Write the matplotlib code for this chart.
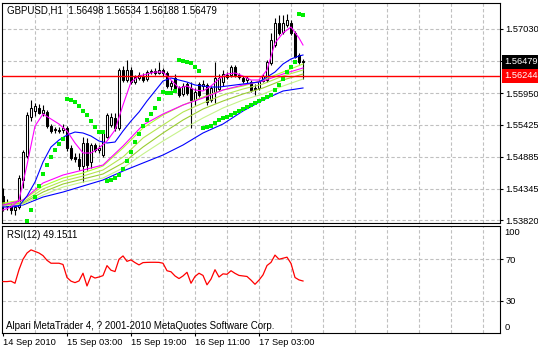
import matplotlib
matplotlib.use('Agg')
import matplotlib.pyplot as plt
import matplotlib.transforms as mtransforms

plt.rcParams['font.family'] = ['Liberation Sans', 'DejaVu Sans']

# ---------------- text / labels ----------------
title_text = 'GBPUSD,H1  1.56498 1.56534 1.56188 1.56479'
rsi_title = 'RSI(12) 49.1511'
copyright_text = 'Alpari MetaTrader 4, ? 2001-2010 MetaQuotes Software Corp.'
date_labels = ['14 Sep 2010', '15 Sep 03:00', '15 Sep 19:00', '16 Sep 11:00', '17 Sep 03:00']
date_label_bars = [0, 16, 32, 48, 64]
price_grid = [1.53820, 1.54345, 1.54885, 1.55425, 1.55950, 1.56490, 1.57030]
price_grid_labels = ['1.53820', '1.54345', '1.54885', '1.55425', '1.55950', '', '1.57030']
last_price = 1.56479
level_price = 1.56244
rsi_levels = [30, 70]

# ---------------- candles (H1 bars) ----------------
opens = [1.54224, 1.54090, 1.54056, 1.53989, 1.54039, 1.54493, 1.54896, 1.55551, 1.55652, 1.55703,
         1.55619, 1.55635, 1.55400, 1.55333, 1.55333, 1.55333, 1.55367, 1.55031, 1.54879, 1.54846,
         1.54728, 1.55115, 1.54795, 1.55081, 1.54997, 1.54913, 1.55215, 1.55417, 1.55535, 1.55367,
         1.56341, 1.56173, 1.56341, 1.56139, 1.56207, 1.56240, 1.56190, 1.56307, 1.56324, 1.56291,
         1.56341, 1.56291, 1.56072, 1.56207, 1.56039, 1.55938, 1.56106, 1.56039, 1.55837, 1.56106,
         1.56072, 1.56089, 1.55837, 1.55971, 1.56022, 1.56139, 1.56257, 1.56257, 1.56391, 1.56257,
         1.56207, 1.56173, 1.56139, 1.56039, 1.56039, 1.56156, 1.56173, 1.56459, 1.56761, 1.57131,
         1.56979, 1.57097, 1.57131, 1.56963, 1.56593, 1.56498]
highs = [1.54359, 1.54174, 1.54107, 1.54073, 1.54577, 1.54997, 1.55635, 1.55837, 1.55787, 1.55770,
         1.55753, 1.55669, 1.55434, 1.55383, 1.55383, 1.55434, 1.55400, 1.55081, 1.54947, 1.54947,
         1.55215, 1.55199, 1.55115, 1.55115, 1.55081, 1.55333, 1.55619, 1.55619, 1.55619, 1.56375,
         1.56408, 1.56509, 1.56391, 1.56257, 1.56307, 1.56291, 1.56341, 1.56358, 1.56375, 1.56475,
         1.56375, 1.56324, 1.56173, 1.56274, 1.56072, 1.56123, 1.56139, 1.56139, 1.56039, 1.56139,
         1.56173, 1.56123, 1.56072, 1.56475, 1.56274, 1.56341, 1.56307, 1.56425, 1.56425, 1.56291,
         1.56240, 1.56240, 1.56173, 1.56106, 1.56190, 1.56274, 1.56509, 1.56963, 1.57215, 1.57265,
         1.57265, 1.57282, 1.57181, 1.56996, 1.56627, 1.56534]
lows = [1.53972, 1.53989, 1.53922, 1.53905, 1.54006, 1.54359, 1.54863, 1.55484, 1.55568, 1.55602,
        1.55568, 1.55367, 1.55283, 1.55283, 1.55283, 1.55283, 1.54980, 1.54829, 1.54795, 1.54661,
        1.54459, 1.54661, 1.54695, 1.54963, 1.54947, 1.54879, 1.55199, 1.55383, 1.55316, 1.55333,
        1.56139, 1.56139, 1.56106, 1.56106, 1.56173, 1.56139, 1.56156, 1.56274, 1.56257, 1.56274,
        1.56240, 1.56039, 1.56005, 1.56005, 1.55887, 1.55904, 1.55921, 1.55367, 1.55753, 1.55887,
        1.56005, 1.55753, 1.55803, 1.55787, 1.55988, 1.56072, 1.56190, 1.56223, 1.56223, 1.56190,
        1.56123, 1.56123, 1.55971, 1.55921, 1.56005, 1.56139, 1.56139, 1.56425, 1.56727, 1.56929,
        1.56946, 1.57063, 1.56929, 1.56543, 1.56442, 1.56188]
closes = [1.54090, 1.54056, 1.53989, 1.54039, 1.54527, 1.54963, 1.55585, 1.55703, 1.55736, 1.55619,
          1.55669, 1.55400, 1.55316, 1.55350, 1.55316, 1.55367, 1.55031, 1.54863, 1.54846, 1.54728,
          1.55115, 1.54745, 1.55081, 1.54997, 1.55031, 1.55283, 1.55585, 1.55551, 1.55367, 1.56341,
          1.56173, 1.56341, 1.56139, 1.56223, 1.56257, 1.56173, 1.56307, 1.56324, 1.56291, 1.56341,
          1.56291, 1.56072, 1.56123, 1.56039, 1.55921, 1.56072, 1.55955, 1.55837, 1.55971, 1.55921,
          1.56106, 1.55803, 1.56039, 1.56207, 1.56207, 1.56274, 1.56223, 1.56391, 1.56257, 1.56223,
          1.56156, 1.56207, 1.56005, 1.56022, 1.56156, 1.56240, 1.56475, 1.56845, 1.57131, 1.56963,
          1.57131, 1.57181, 1.56963, 1.56559, 1.56475, 1.56479]

# ---------------- Parabolic SAR ----------------
sar = [None, None, None, None, None, None,
       1.53804, 1.53989, 1.54207, 1.54392, 1.54594, 1.54745, 1.54879, 1.54997, 1.55098, 1.55182,
       1.55854, 1.55837, 1.55803, 1.55736, 1.55652, 1.55585, 1.55484, 1.55383, 1.55299, 1.55299,
       1.54476, 1.54493, 1.54527, 1.54577, 1.54678, 1.54812, 1.54963, 1.55131, 1.55266, 1.55400,
       1.55501, 1.55602, 1.55703, 1.55854, 1.55971, 1.55955, 1.55955, 1.55988,
       1.56509, 1.56492, 1.56475, 1.56459, 1.56391, 1.56324,
       1.55367, 1.55383, 1.55400, 1.55451, 1.55501, 1.55535, 1.55551, 1.55585, 1.55619, 1.55652,
       1.55686, 1.55719, 1.55753, 1.55787, 1.55820, 1.55854, 1.55887, 1.55921, 1.56005, 1.56089,
       1.56190, 1.56307, 1.56391, 1.56475, 1.57282, 1.57265]

# ---------------- moving averages ----------------
fast_bars = list(range(0, 76, 2)) + [75]
fast_ma_magenta = [1.53989, 1.54039, 1.54157, 1.54745, 1.55400, 1.55602, 1.55518, 1.55434, 1.55316, 1.55115,
                   1.54947, 1.54947, 1.55031, 1.55148, 1.55333, 1.55753, 1.56139, 1.56240, 1.56274, 1.56307,
                   1.56307, 1.56173, 1.56039, 1.56072, 1.56005, 1.55988, 1.56072, 1.56190, 1.56274, 1.56291,
                   1.56240, 1.56173, 1.56173, 1.56341, 1.56795, 1.56963, 1.57063, 1.56879, 1.56761]
mid_ma_blue = [1.54039, 1.54039, 1.54056, 1.54224, 1.54459, 1.54795, 1.55047, 1.55165, 1.55249, 1.55299,
               1.55283, 1.55232, 1.55148, 1.55115, 1.55131, 1.55316, 1.55484, 1.55635, 1.55820, 1.55988,
               1.56156, 1.56207, 1.56173, 1.56139, 1.56089, 1.56072, 1.56055, 1.56055, 1.56072, 1.56089,
               1.56106, 1.56123, 1.56139, 1.56223, 1.56307, 1.56442, 1.56526, 1.56576, 1.56593]

slow_bars = list(range(0, 76, 5))
slow_ma_magenta = [1.54073, 1.54157, 1.54443, 1.54577, 1.54661, 1.54745, 1.55064, 1.55417,
                   1.55602, 1.55753, 1.55871, 1.56005, 1.56089, 1.56156, 1.56274, 1.56375]
green_ma_1 = [1.54107, 1.54157, 1.54392, 1.54527, 1.54611, 1.54728, 1.55031, 1.55367,
              1.55585, 1.55753, 1.55887, 1.56005, 1.56072, 1.56173, 1.56307, 1.56442]
green_ma_2 = [1.54090, 1.54123, 1.54342, 1.54476, 1.54560, 1.54661, 1.54879, 1.55199,
              1.55417, 1.55635, 1.55787, 1.55921, 1.56022, 1.56106, 1.56240, 1.56341]
green_ma_3 = [1.54073, 1.54107, 1.54291, 1.54426, 1.54510, 1.54594, 1.54779, 1.55047,
              1.55283, 1.55501, 1.55686, 1.55820, 1.55938, 1.56039, 1.56173, 1.56274]
green_ma_4 = [1.54056, 1.54090, 1.54241, 1.54375, 1.54459, 1.54527, 1.54695, 1.54930,
              1.55148, 1.55350, 1.55535, 1.55703, 1.55837, 1.55938, 1.56072, 1.56190]
slow_ma_blue = [1.54056, 1.54073, 1.54207, 1.54291, 1.54392, 1.54493, 1.54644, 1.54779,
                1.54913, 1.55081, 1.55283, 1.55434, 1.55652, 1.55837, 1.55988, 1.56039]

# ---------------- RSI(12) ----------------
rsi = [48.6, 48.6, 49, 47, 60, 70, 76, 79, 77.5, 76,
       73.5, 69, 66.2, 66.2, 66.2, 65, 52.5, 49, 47.6, 49.2,
       56.6, 44.4, 54, 52, 53, 54.3, 63.9, 59.5, 58.2, 70,
       73.2, 68, 69.4, 66.8, 64.6, 66.8, 67, 67.1, 67.1, 67,
       66.2, 59, 58, 54, 51.5, 54, 57.5, 47, 53.5, 56.6,
       54.5, 45.5, 51, 60, 53, 56, 55.6, 59, 56.5, 54.5,
       54, 53.5, 50, 46, 50, 55, 64, 67, 74, 70,
       71, 72, 66, 52.5, 50.2, 49.15]

# ---------------- figure ----------------
W, H = 538, 351
fig = plt.figure(figsize=(W / 100, H / 100), dpi=100)
fig.patch.set_facecolor('white')

left_px, right_px = 1.5, 500
main_top, main_bot = 2.5, 223.3
rsi_top, rsi_bot = 226.0, 333.3

ax = fig.add_axes([left_px / W, 1 - main_bot / H, (right_px - left_px) / W, (main_bot - main_top) / H])
ax2 = fig.add_axes([left_px / W, 1 - rsi_bot / H, (right_px - left_px) / W, (rsi_bot - rsi_top) / H])

FS = 6.7
FS_T = 7.0
grid_kw = dict(color='#c0c0c0', lw=0.8, dashes=(3, 2), zorder=0)
n = len(closes)
xs = list(range(n))

for a in (ax, ax2):
    a.set_xlim(-0.375, 124.25)
    for s in a.spines.values():
        s.set_color('black')
        s.set_linewidth(0.8)
    for gx in range(8, 124, 8):
        a.axvline(gx, **grid_kw)

# main panel
ax.set_ylim(1.53766, 1.57475)
for gy in price_grid:
    ax.axhline(gy, **grid_kw)

# candles
ax.vlines(xs, lows, highs, color='black', lw=0.8, zorder=2)
bodies_b = [max(abs(c - o), 0.00005) for o, c in zip(opens, closes)]
bottoms = [min(o, c) for o, c in zip(opens, closes)]
faces = ['white' if c >= o else 'black' for o, c in zip(opens, closes)]
ax.bar(xs, bodies_b, bottom=bottoms, width=0.55, color=faces, edgecolor='black', linewidth=0.75, zorder=2.5)

# moving averages
ax.plot(slow_bars, slow_ma_blue, color='#0000ff', lw=0.8, zorder=3)
ax.plot(slow_bars, green_ma_4, color='#c6f28a', lw=0.8, zorder=3)
ax.plot(slow_bars, green_ma_3, color='#9acd32', lw=0.8, zorder=3)
ax.plot(slow_bars, green_ma_2, color='#b4e650', lw=0.8, zorder=3)
ax.plot(slow_bars, green_ma_1, color='#adff2f', lw=0.8, zorder=3)
ax.plot(slow_bars, slow_ma_magenta, color='#ff00ff', lw=0.8, zorder=3)
ax.plot(fast_bars, mid_ma_blue, color='#0000ff', lw=0.8, zorder=3)
ax.plot(fast_bars, fast_ma_magenta, color='#ff00ff', lw=0.8, zorder=3)

# parabolic SAR
sx = [i for i, v in enumerate(sar) if v is not None]
sy = [v for v in sar if v is not None]
ax.plot(sx, sy, linestyle='none', marker='s', markersize=3.3, color='#00ee00', markeredgewidth=0, zorder=4)

# horizontal level line
ax.axhline(level_price, color='#ff0000', lw=1.0, zorder=5)

ax.set_xticks([])
ax.yaxis.tick_right()
ax.set_yticks(price_grid)
ax.set_yticklabels(price_grid_labels)
ax.tick_params(axis='y', direction='out', length=2.2, width=0.8, pad=1.5, labelsize=FS, colors='black')

trans = mtransforms.blended_transform_factory(ax.transAxes, ax.transData)
ax.text(1.0095, last_price, '%.5f' % last_price, transform=trans, color='white', fontsize=FS,
        va='center', ha='left', clip_on=False, zorder=10,
        bbox=dict(boxstyle='square,pad=0.28', fc='black', ec='none'))
ax.text(1.0095, level_price, '%.5f' % level_price, transform=trans, color='white', fontsize=FS,
        va='center', ha='left', clip_on=False, zorder=10,
        bbox=dict(boxstyle='square,pad=0.28', fc='#ff0000', ec='none'))

# RSI panel
ax2.set_ylim(-1.0, 101.9)
for lv in rsi_levels:
    ax2.axhline(lv, **grid_kw)
ax2.plot(xs, rsi, color='#ff0000', lw=0.9, zorder=3)
ax2.yaxis.tick_right()
ax2.set_yticks(rsi_levels)
ax2.set_yticklabels([str(v) for v in rsi_levels])
ax2.tick_params(axis='y', direction='out', length=2.2, width=0.8, pad=1.5, labelsize=FS, colors='black')
trans2 = mtransforms.blended_transform_factory(ax2.transAxes, ax2.transData)
ax2.text(1.0095, 95.5, '100', transform=trans2, fontsize=FS, va='center', ha='left', clip_on=False)
ax2.text(1.0095, 5.0, '0', transform=trans2, fontsize=FS, va='center', ha='left', clip_on=False)

ax2.set_xticks(date_label_bars)
ax2.set_xticklabels(date_labels, ha='left')
ax2.tick_params(axis='x', direction='out', length=2.2, width=0.8, pad=1.5, labelsize=FS, colors='black')

# texts
fig.text(7 / W, 1 - 10.5 / H, title_text, fontsize=FS_T, va='center', ha='left', color='black')
fig.text(7 / W, 1 - 235.5 / H, rsi_title, fontsize=FS_T, va='center', ha='left', color='black')
fig.text(6 / W, 1 - 326 / H, copyright_text, fontsize=FS_T, va='center', ha='left', color='black')

fig.savefig('out.png', dpi=100, facecolor='white')
